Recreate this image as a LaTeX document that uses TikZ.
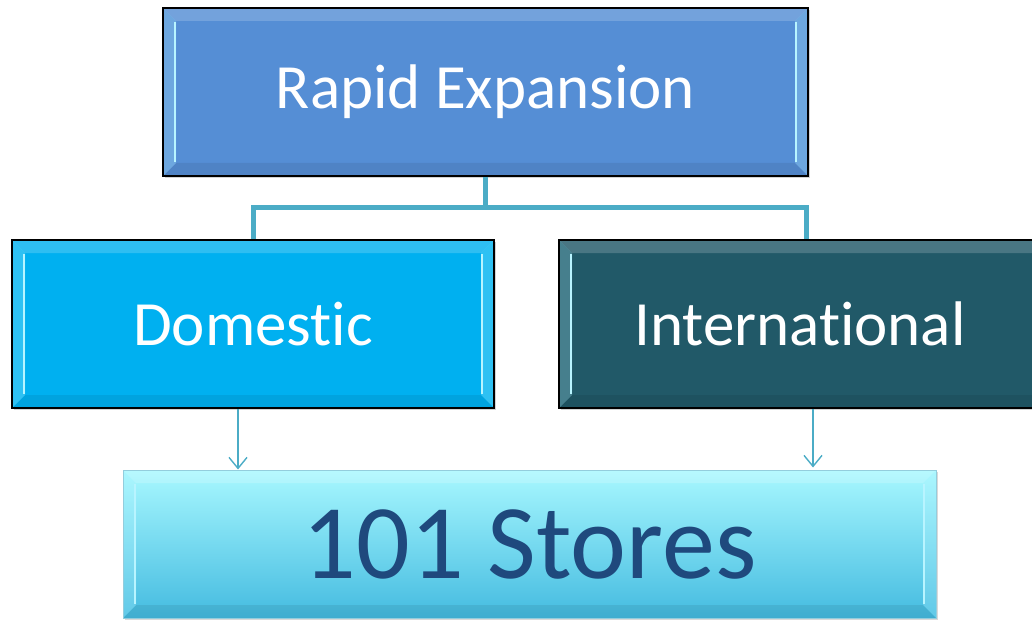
\documentclass[tikz,border=0pt]{standalone}
\usepackage{fontspec}
\setmainfont[Ligatures=NoCommon]{Carlito}
\usetikzlibrary{arrows.meta,shadows}
\definecolor{topblue}{HTML}{558ED5}
\definecolor{domblue}{HTML}{00B0F0}
\definecolor{intteal}{HTML}{215968}
\definecolor{conncol}{HTML}{4BACC6}
\definecolor{storetop}{HTML}{A8F8FF}
\definecolor{storebot}{HTML}{44BBE0}
\definecolor{storetext}{HTML}{1F497D}
\definecolor{hilite}{HTML}{B8F4FF}
\tikzset{
  bevel/.style={path picture={
    \coordinate (NW) at (path picture bounding box.north west);
    \coordinate (NE) at (path picture bounding box.north east);
    \coordinate (SW) at (path picture bounding box.south west);
    \coordinate (SE) at (path picture bounding box.south east);
    \fill[white,opacity=.18] (NW) -- (NE) -- ([shift={(-13pt,-13pt)}]NE) -- ([shift={(13pt,-13pt)}]NW) -- cycle;
    \fill[black,opacity=.07] (SW) -- (SE) -- ([shift={(-13pt,13pt)}]SE) -- ([shift={(13pt,13pt)}]SW) -- cycle;
    \fill[hilite,opacity=.25] (NW) -- ([shift={(13pt,-13pt)}]NW) -- ([shift={(13pt,13pt)}]SW) -- (SW) -- cycle;
    \fill[hilite,opacity=.25] (NE) -- ([shift={(-13pt,-13pt)}]NE) -- ([shift={(-13pt,13pt)}]SE) -- (SE) -- cycle;
    \draw[hilite,line width=2.4pt] ([shift={(12pt,-14pt)}]NW) -- ([shift={(12pt,14pt)}]SW);
    \draw[hilite,line width=2.4pt] ([shift={(-12pt,-14pt)}]NE) -- ([shift={(-12pt,14pt)}]SE);
  }},
  box/.style={draw=black,line width=1.6pt,inner sep=0pt,text=white,
    font=\fontsize{63}{70}\selectfont,
    drop shadow={shadow xshift=2pt,shadow yshift=-2pt,opacity=.35}},
  conn/.style={draw=conncol,line width=5pt},
  arr/.style={draw=conncol,line width=1.4pt,-{Straight Barb[length=11pt,width=18pt,line width=1.4pt]}}
}
\begin{document}
\begin{tikzpicture}[x=1pt,y=-1pt]
\useasboundingbox (0,0) rectangle (1032,620);
\node[box,fill=topblue,bevel,minimum width=645pt,minimum height=168pt] (top) at (485.5,92) {Rapid Expansion};
\node[box,fill=domblue,bevel,minimum width=482pt,minimum height=168pt] (dom) at (253,324) {Domestic};
\node[box,fill=intteal,bevel,minimum width=494pt,minimum height=168pt] (intl) at (806,324) {\hspace*{-12pt}International};
\node[draw=conncol!60!white,line width=1pt,inner sep=0pt,top color=storetop,bottom color=storebot,
  text=storetext,font=\fontsize{106}{110}\selectfont,bevel,
  drop shadow={shadow xshift=2pt,shadow yshift=-2pt,opacity=.3},
  minimum width=813pt,minimum height=148pt] (stores) at (529.5,544) {101 Stores};
\draw[conn] (top.south) -- ++(0,31) coordinate (mid) -| (dom.north);
\draw[conn] (mid) -| (intl.north);
\draw[arr] ([xshift=-15pt]dom.south) -- ([xshift=-15pt]dom.south |- stores.north);
\draw[arr] ([xshift=7pt]intl.south) -- ([xshift=7pt,yshift=2pt]intl.south |- stores.north);
\end{tikzpicture}
\end{document}
